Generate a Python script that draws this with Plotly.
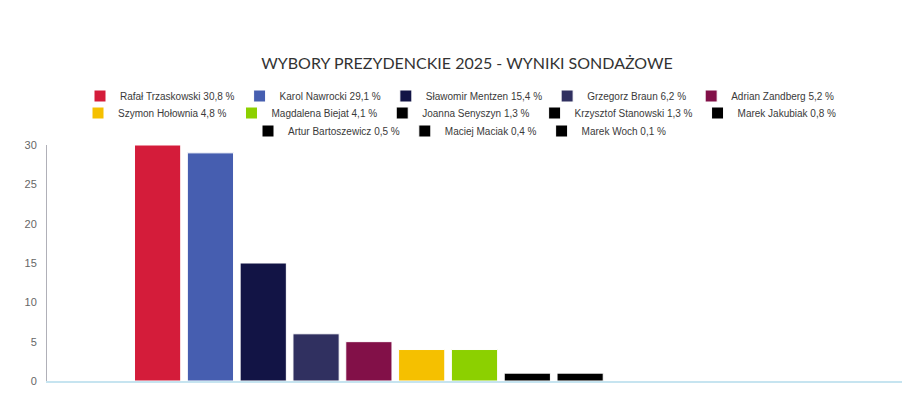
import plotly.graph_objects as go

kandydaci = ["Rafał Trzaskowski", "Karol Nawrocki", "Sławomir Mentzen", "Grzegorz Braun",
             "Adrian Zandberg", "Szymon Hołownia", "Magdalena Biejat", "Joanna Senyszyn",
             "Krzysztof Stanowski", "Marek Jakubiak", "Artur Bartoszewicz", "Maciej Maciak",
             "Marek Woch"]
sondaz = [30.8, 29.1, 15.4, 6.2, 5.2, 4.8, 4.1, 1.3, 1.3, 0.8, 0.5, 0.4, 0.1]
# bars in the original are drawn with whole numbers
slupki = [30, 29, 15, 6, 5, 4, 4, 1, 1, 0, 0, 0, 0]
kolory = ["#D41C3A", "#465EB0", "#121445", "#303060", "#821048", "#F5C000", "#8CD000",
          "#000000", "#000000", "#000000", "#000000", "#000000", "#000000"]

# page body has an 8px margin, so the figure is a bit smaller than the window
W, H = 904, 406

fig = go.Figure()
for i, (name, pct, val, col) in enumerate(zip(kandydaci, sondaz, slupki, kolory)):
    legenda = "legend" if i < 5 else ("legend2" if i < 10 else "legend3")
    fig.add_trace(go.Bar(
        x=[""], y=[val],
        name=f"{name} {str(pct).replace('.', ',')} %",
        marker=dict(color=col, line=dict(color="white", width=1)),
        legend=legenda,
    ))

leg = dict(orientation="h", xref="container", yref="container", xanchor="center",
           yanchor="middle", font=dict(family="Liberation Sans, Arial", size=10, color="#3a3a3a"),
           bgcolor="rgba(0,0,0,0)", itemclick=False)

fig.update_layout(
    width=W, height=H,
    paper_bgcolor="white", plot_bgcolor="white",
    margin=dict(l=39, r=10, t=137, b=33, autoexpand=False),
    barmode="group", bargap=0.197, bargroupgap=0.125,
    title=dict(text="WYBORY PREZYDENCKIE 2025 - WYNIKI SONDAŻOWE",
               x=459 / W, xanchor="center", y=1 - 55 / H, yanchor="middle",
               font=dict(family="Lato", size=16, color="#333333")),
    legend=dict(leg, x=452 / W, y=1 - 88 / H),
    legend2=dict(leg, x=452 / W, y=1 - 105 / H),
    legend3=dict(leg, x=452 / W, y=1 - 123 / H),
    xaxis=dict(showticklabels=False, showline=True, linecolor="#c6e4f0", linewidth=2,
               showgrid=False, zeroline=False, fixedrange=True),
    yaxis=dict(range=[0, 30], tickvals=[0, 5, 10, 15, 20, 25, 30], showgrid=False,
               zeroline=False, showline=True, linecolor="#b0b0b8", linewidth=1,
               ticks="", ticklabelstandoff=7,
               tickfont=dict(family="Liberation Sans, Arial", size=11, color="#666666")),
)

fig.write_html("out.html")
